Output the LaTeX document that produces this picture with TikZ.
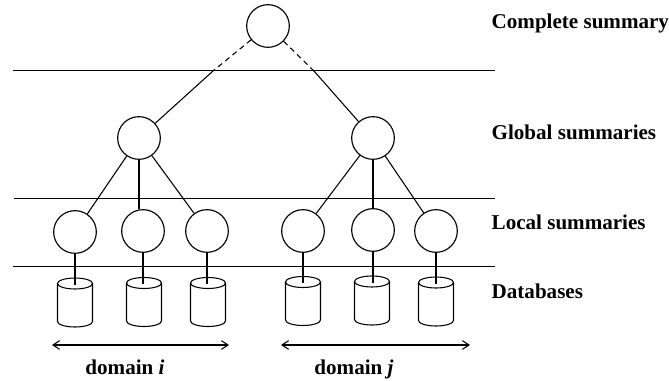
\documentclass[tikz,border=0pt]{standalone}
\usepackage{fontspec}
\setmainfont{Liberation Serif}
\usetikzlibrary{arrows.meta}
\tikzset{
	summary/.style={draw,circle,minimum size=32pt,inner sep=0,line width=0.85pt},
	dbase/.style={fill=white,line width=0.8pt},
	label/.style={anchor=base west,font=\bfseries\fontsize{15.8}{18}\selectfont},
	domlabel/.style={anchor=base,font=\bfseries\fontsize{15.8}{18}\selectfont},
	level/.style={line width=0.75pt},
	link/.style={line width=0.8pt},
	span/.style={line width=0.8pt,{Straight Barb[length=5pt,width=6.5pt]}-{Straight Barb[length=5pt,width=6.5pt]}}
}
\newcommand{\dbs}[5]{
\node[summary] (#1) at (#2,#3) {};
\draw[dbase] (#4-17.5,#5) -- (#4-17.5,#5+38) arc[start angle=180,end angle=0,x radius=17.5,y radius=5.5] -- (#4+17.5,#5);
\draw[dbase] (#4,#5) ellipse (17.5 and 5.5);
\coordinate (in#1) at (#2,#5+1.5);
\draw[link] (#1)--(in#1);}

\begin{document}
\begin{tikzpicture}[x=0.75pt,y=-0.75pt]
\useasboundingbox (0,0) rectangle (669,381);

\node[summary] (top) at (268,26) {};
\node[summary] (gi) at (139,138) {};
\node[summary] (gj) at (373,138) {};

\dbs{la}{75}{232}{75}{283.5}
\dbs{lb}{143}{231}{144}{283}
\dbs{lc}{207}{231}{208}{283}
\dbs{ld}{303}{231}{303}{282}
\dbs{le}{373}{230}{372}{281.5}
\dbs{lf}{436}{231}{436}{282.5}

\draw[level] (13,71)--(495,71);
\draw[level] (14,199)--(495,199);
\draw[level] (13,267)--(495,267);

\coordinate (ci) at (213,71);
\coordinate (cj) at (314,71);
\draw[link,dash pattern=on 4pt off 3pt] (top)--(ci);
\draw[link,dash pattern=on 4pt off 3pt] (top)--(cj);
\draw[link] (ci)--(gi);
\draw[link] (cj)--(gj);

\draw[link] (gi)--(la);
\draw[link] (gi.south)--(gi.south|-lb.north);
\draw[link] (gi)--(lc);
\foreach \a in {ld,le,lf}{
	\draw[link] (gj)--(\a);
}

\coordinate (ia) at (52,345);
\coordinate (ib) at (229,345);
\coordinate (ja) at (281,345);
\coordinate (jb) at (470,345);
\draw[span] (ia)--(ib);
\draw[span] (ja)--(jb);

\node[domlabel] (di) at (125,375) {domain \textit{i}};
\node[domlabel] (dj) at (354,375) {domain \textit{j}};

\node[label] (complete) at (487,29) {Complete summary};
\node[label] (global) at (487,140) {Global summaries};
\node[label] (local) at (487,230) {Local summaries};
\node[label] (databases) at (487,299) {Databases};
\end{tikzpicture}
\end{document}
